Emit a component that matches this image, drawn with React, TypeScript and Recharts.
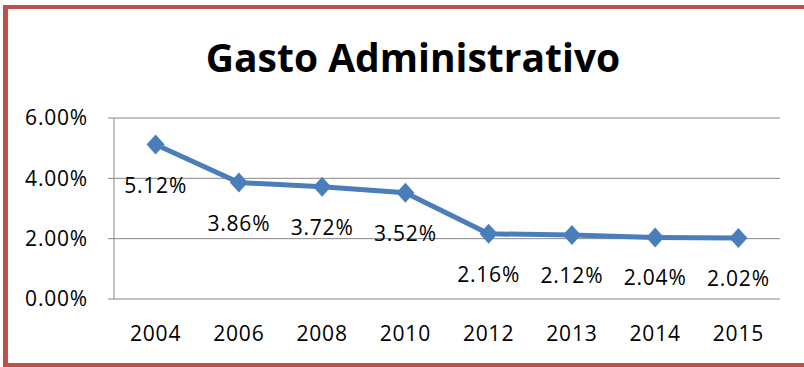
import React from 'react';
import { LineChart, Line, XAxis, YAxis, CartesianGrid, LabelList } from 'recharts';

const years = ['2004', '2006', '2008', '2010', '2012', '2013', '2014', '2015'];
const gasto = [5.12, 3.86, 3.72, 3.52, 2.16, 2.12, 2.04, 2.02];
const yTicks = [0, 2, 4, 6];
// category boundaries, used only for the tick marks under the axis
const edgeTicks = years.map((_, i) => i).concat([years.length]);

const data = years.map((year, i) => ({ year, gasto: gasto[i] }));

const FONT = '"Open Sans", sans-serif';
const AXIS_GRAY = '#868686';
const BLUE = '#4A7EBB';
const RED = '#C0504D';

const Diamond = (props: any) => {
  const { cx, cy } = props;
  if (cx == null || cy == null) return null;
  return (
    <polygon
      points={`${cx},${cy - 10} ${cx + 9},${cy} ${cx},${cy + 10} ${cx - 9},${cy}`}
      fill={BLUE}
    />
  );
};

const renderLabel = (props: any) => {
  const { x, y, value } = props;
  return (
    <text
      x={x}
      y={y + 40}
      textAnchor="middle"
      dominantBaseline="central"
      fill="#000"
      fontSize={21}
      fontFamily={FONT}
      letterSpacing={0.8}
    >
      {Number(value).toFixed(2)}%
    </text>
  );
};

export default function App() {
  return (
    <div style={{ position: 'relative', width: 804, height: 367, overflow: 'hidden', background: '#fff' }}>
      <style>{'body { margin: 0; }'}</style>
      {/* red frame (no right side, it runs off the picture) and the title */}
      <svg width={804} height={367} style={{ position: 'absolute', left: 0, top: 0 }}>
        <rect x={3} y={5} width={5} height={362} fill={RED} />
        <rect x={3} y={5} width={801} height={4} fill={RED} />
        <rect x={3} y={363} width={801} height={4} fill={RED} />
        <text x={413} y={72} textAnchor="middle" fontFamily={FONT} fontWeight={700} fontSize={39} fill="#000">
          Gasto Administrativo
        </text>
      </svg>
      <div style={{ position: 'absolute', left: 0, top: 0 }}>
        <LineChart width={804} height={367} data={data} margin={{ top: 118, right: 24, left: 8, bottom: 38 }}>
          <CartesianGrid vertical={false} stroke={AXIS_GRAY} />
          <XAxis
            xAxisId="edge"
            type="number"
            domain={[0, years.length]}
            ticks={edgeTicks}
            allowDataOverflow
            tick={false}
            tickSize={7}
            height={0}
            axisLine={{ stroke: AXIS_GRAY }}
            tickLine={{ stroke: AXIS_GRAY }}
          />
          <XAxis
            xAxisId="cat"
            dataKey="year"
            padding={{ left: 41.6, right: 41.6 }}
            axisLine={false}
            tickLine={false}
            tickSize={0}
            tickMargin={27}
            height={30}
            tick={{ fill: '#000', fontSize: 21, fontFamily: FONT, letterSpacing: 0.8 }}
          />
          <YAxis
            domain={[0, 6]}
            ticks={yTicks}
            width={106}
            tickFormatter={(v: number) => `${v.toFixed(2)}%`}
            axisLine={{ stroke: AXIS_GRAY }}
            tickLine={{ stroke: AXIS_GRAY }}
            tickSize={6}
            tickMargin={20}
            tick={{ fill: '#000', fontSize: 21, fontFamily: FONT, letterSpacing: 0.8 }}
          />
          <Line
            xAxisId="cat"
            dataKey="gasto"
            stroke={BLUE}
            strokeWidth={5}
            dot={<Diamond />}
            activeDot={false}
            isAnimationActive={false}
          >
            <LabelList dataKey="gasto" content={renderLabel} />
          </Line>
        </LineChart>
      </div>
    </div>
  );
}
